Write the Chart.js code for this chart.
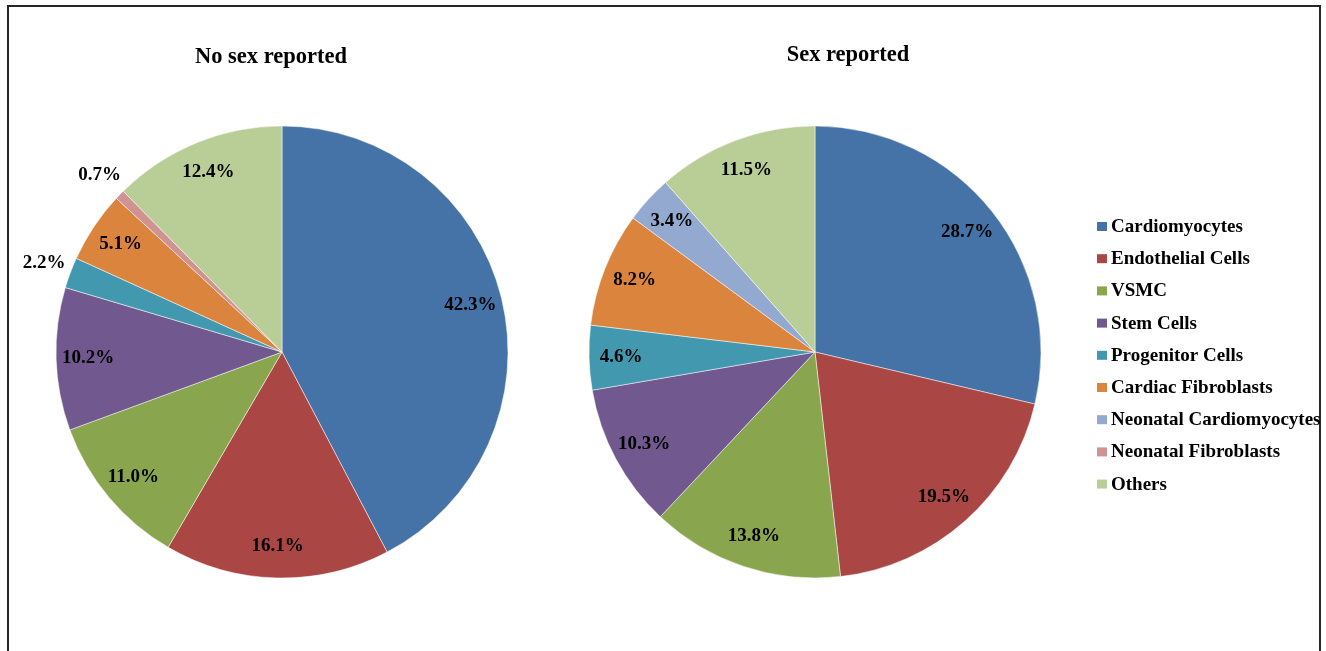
<!DOCTYPE html>
<html>
<head>
<meta charset="utf-8">
<script src="https://cdn.jsdelivr.net/npm/chart.js@4.4.1/dist/chart.umd.min.js"></script>
<style>
  html, body { margin: 0; padding: 0; background: #ffffff; }
  body { width: 1326px; height: 651px; position: relative; overflow: hidden; }
  #frame { position: absolute; left: 7px; top: 5px; width: 1314px; height: 700px;
           border: 2px solid #262626; box-sizing: border-box; }
  #c1 { position: absolute; left: 0; top: 0; }
  #c2 { position: absolute; left: 564px; top: 0; }
</style>
</head>
<body>
<div id="frame"></div>
<canvas id="c1" width="564" height="651"></canvas>
<canvas id="c2" width="762" height="651"></canvas>
<script>
const categories = ["Cardiomyocytes", "Endothelial Cells", "VSMC", "Stem Cells", "Progenitor Cells",
  "Cardiac Fibroblasts", "Neonatal Cardiomyocytes", "Neonatal Fibroblasts", "Others"];
const noSexReported = [42.3, 16.1, 11.0, 10.2, 2.2, 5.1, 0, 0.7, 12.4];
const sexReported = [28.7, 19.5, 13.8, 10.3, 4.6, 8.2, 3.4, 0, 11.5];
const titles = ["No sex reported", "Sex reported"];
const colors = ["#4572A7", "#AA4643", "#89A54E", "#71588F", "#4198AF", "#DB843D", "#93A9CF", "#D19392", "#B9CD96"];

const SERIF = '"Liberation Serif", "Times New Roman", serif';

const labelPlugin = {
  id: 'pieLabels',
  afterDatasetsDraw(chart) {
    const ctx = chart.ctx;
    const meta = chart.getDatasetMeta(0);
    const vals = chart.data.datasets[0].data;
    ctx.save();
    ctx.font = 'bold 19px ' + SERIF;
    ctx.fillStyle = '#000000';
    ctx.textAlign = 'center';
    ctx.textBaseline = 'middle';
    meta.data.forEach((arc, i) => {
      const v = vals[i];
      if (!v) return;
      const p = arc.getProps(['x', 'y', 'startAngle', 'endAngle', 'outerRadius']);
      const mid = (p.startAngle + p.endAngle) / 2;
      const r = v < 3 ? p.outerRadius + 28 : p.outerRadius - 32;
      ctx.fillText(v.toFixed(1) + '%', p.x + Math.cos(mid) * r, p.y + Math.sin(mid) * r);
    });
    ctx.restore();
  }
};

const titlePlugin = {
  id: 'fixedTitle',
  afterDraw(chart, args, opts) {
    const ctx = chart.ctx;
    ctx.save();
    ctx.font = 'bold 22.5px ' + SERIF;
    ctx.fillStyle = '#000000';
    ctx.textAlign = 'center';
    ctx.textBaseline = 'middle';
    ctx.fillText(opts.text, opts.x, opts.y);
    ctx.restore();
  }
};

const legendPlugin = {
  id: 'sideLegend',
  afterDraw(chart, args, opts) {
    if (!opts.show) return;
    const ctx = chart.ctx;
    const bg = chart.data.datasets[0].backgroundColor;
    ctx.save();
    ctx.font = 'bold 19px ' + SERIF;
    ctx.textAlign = 'left';
    ctx.textBaseline = 'middle';
    chart.data.labels.forEach((lab, i) => {
      const y = opts.y + i * opts.step;
      ctx.fillStyle = bg[i];
      ctx.fillRect(opts.x, y - 4, 10, 9);
      ctx.fillStyle = '#000000';
      ctx.fillText(lab, opts.x + 14, y + 1);
    });
    ctx.restore();
  }
};

function makePie(id, values, title, pad, titlePos, legend) {
  return new Chart(document.getElementById(id), {
    type: 'pie',
    data: {
      labels: categories,
      datasets: [{
        data: values,
        backgroundColor: colors,
        borderColor: 'rgba(255,255,255,0.5)',
        borderWidth: 1,
        hoverOffset: 0
      }]
    },
    options: {
      responsive: false,
      animation: false,
      radius: 226,
      layout: { padding: pad },
      events: [],
      plugins: {
        legend: { display: false },
        tooltip: { enabled: false },
        title: { display: false },
        fixedTitle: { text: title, x: titlePos.x, y: titlePos.y },
        sideLegend: legend
      }
    },
    plugins: [labelPlugin, titlePlugin, legendPlugin]
  });
}

makePie('c1', noSexReported, titles[0], { left: 56, right: 56, top: 126, bottom: 73 },
  { x: 271, y: 57 }, { show: false });
makePie('c2', sexReported, titles[1], { left: 25, right: 285, top: 126, bottom: 73 },
  { x: 284, y: 55 }, { show: true, x: 533, y: 226, step: 32.2 });
</script>
</body>
</html>
